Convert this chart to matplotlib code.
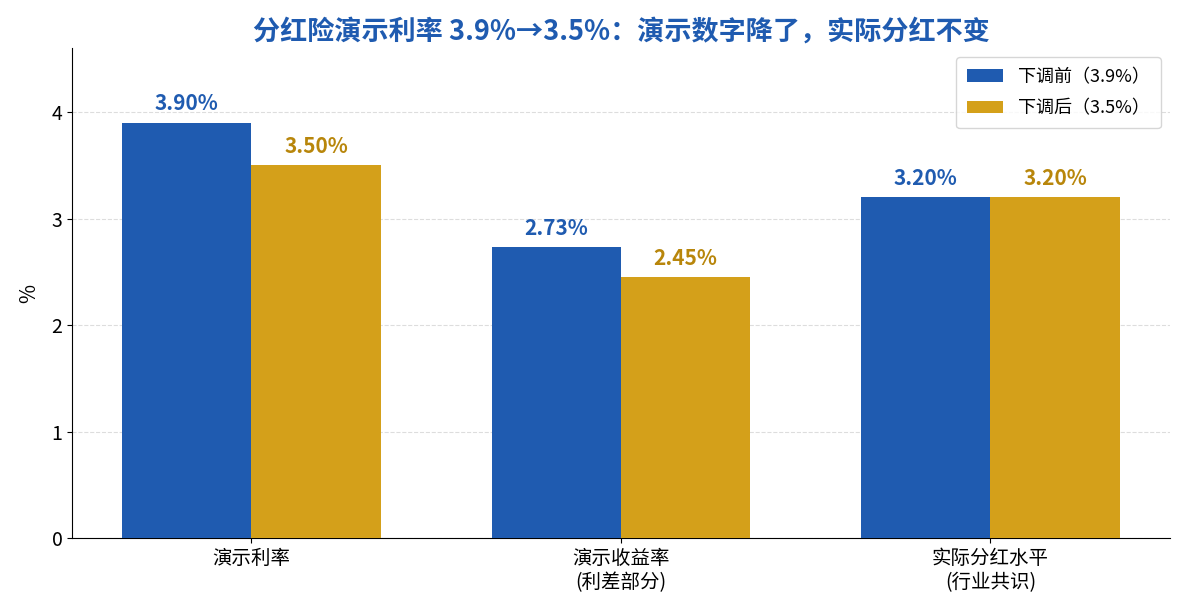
import numpy as np
import matplotlib
matplotlib.use("Agg")
import matplotlib.pyplot as plt

plt.rcParams['font.family'] = ['Noto Sans CJK SC', 'DejaVu Sans']

categories = ["演示利率", "演示收益率\n(利差部分)", "实际分红水平\n(行业共识)"]
before = [3.90, 2.73, 3.20]
after = [3.50, 2.45, 3.20]
series_names = ["下调前（3.9%）", "下调后（3.5%）"]

blue = "#1f5bb0"
gold = "#d4a01a"
gold_text = "#b8860b"

fig, ax = plt.subplots(figsize=(11.85, 6.15), dpi=100)
x = np.arange(len(categories))
w = 0.35

b1 = ax.bar(x - w / 2, before, w, color=blue, label=series_names[0], zorder=3)
b2 = ax.bar(x + w / 2, after, w, color=gold, label=series_names[1], zorder=3)

for bars, col in ((b1, blue), (b2, gold_text)):
    for r in bars:
        ax.text(r.get_x() + r.get_width() / 2, r.get_height() + 0.08,
                f"{r.get_height():.2f}%", ha="center", va="bottom",
                fontsize=15, fontweight="bold", color=col)

ax.set_ylim(0, 3.9 * 1.18)
ax.set_xticks(x)
ax.set_xticklabels(categories, fontsize=14)
ax.tick_params(axis="y", labelsize=14)
ax.set_ylabel("%", fontsize=15, labelpad=8)
ax.set_title("分红险演示利率 3.9%→3.5%：演示数字降了，实际分红不变",
             fontsize=19.5, fontweight="bold", color=blue, pad=6)
ax.grid(axis="y", linestyle="--", color="#dddddd", zorder=0)
ax.spines["top"].set_visible(False)
ax.spines["right"].set_visible(False)
ax.legend(loc="upper right", fontsize=13, labelspacing=0.75, borderpad=0.6)

fig.subplots_adjust(left=0.061, right=0.987, top=0.922, bottom=0.125)
fig.savefig("out.png", dpi=100)
